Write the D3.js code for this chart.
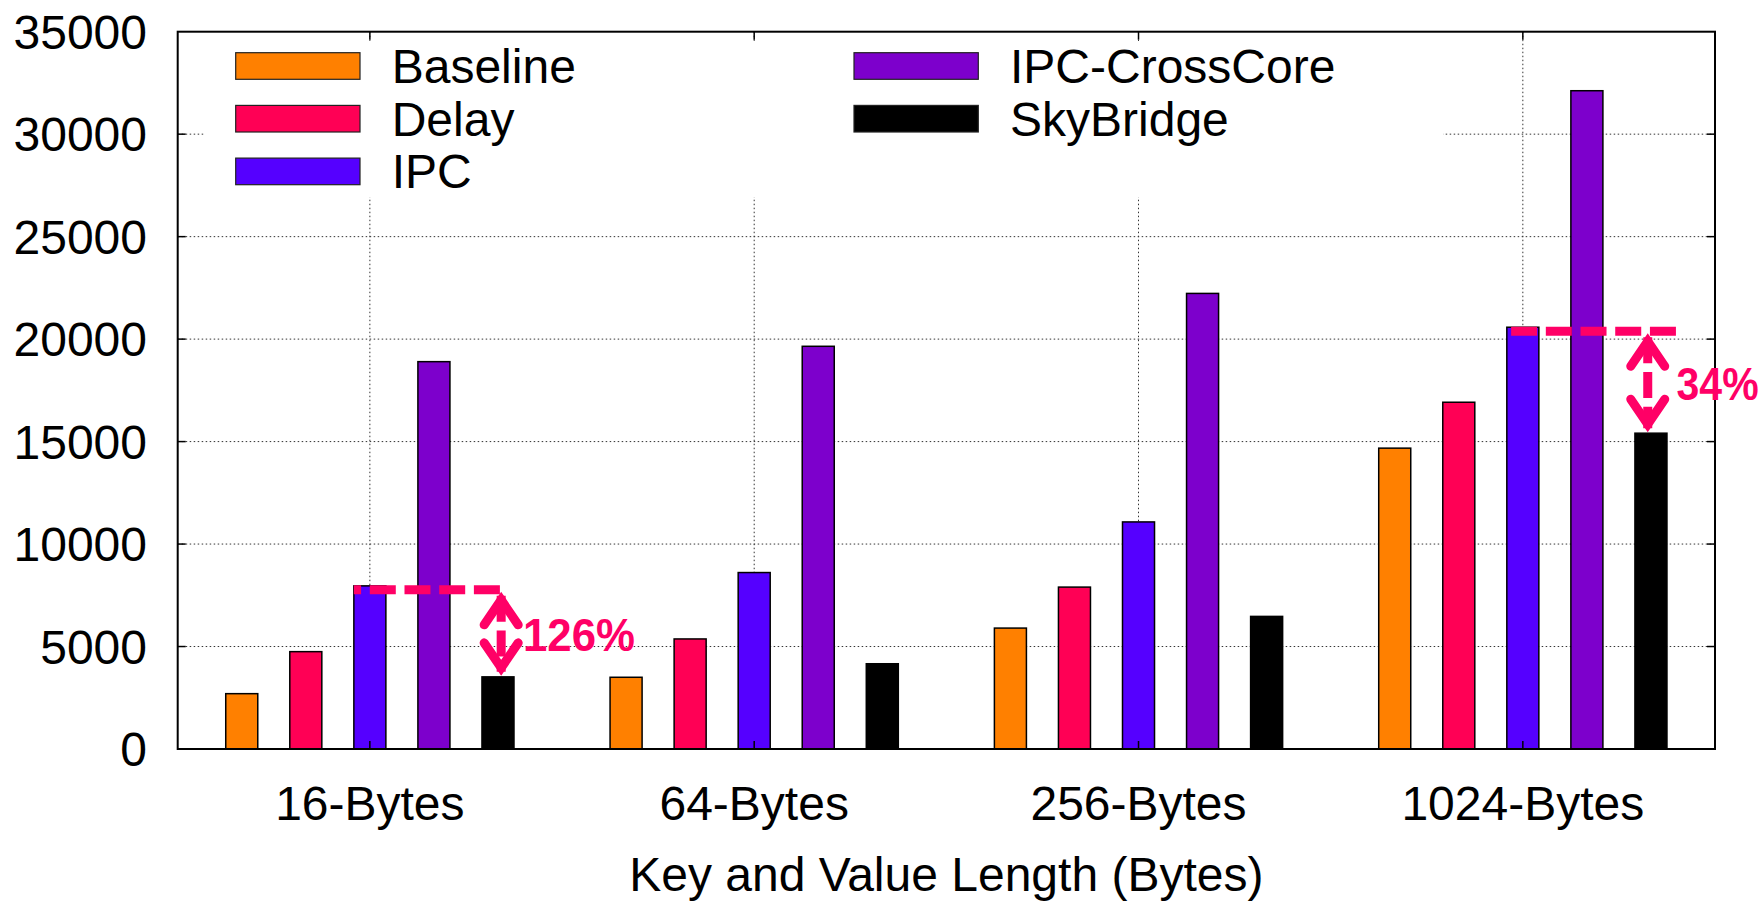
<!DOCTYPE html>
<html>
<head>
<meta charset="utf-8">
<script src="https://cdn.jsdelivr.net/npm/d3@7"></script>
<style>
body { margin: 0; background: #fff; }
text { font-family: "Liberation Sans", Arial, sans-serif; }
</style>
</head>
<body>
<svg id="chart" width="1764" height="909"></svg>
<script>
// data
var categories = ['16-Bytes', '64-Bytes', '256-Bytes', '1024-Bytes']
var seriesNames = ['Baseline', 'Delay', 'IPC', 'IPC-CrossCore', 'SkyBridge']
var seriesColors = ['#ff8000', '#ff0055', '#5500ff', '#7d00cc', '#000000']
var baseline = [2700, 3500, 5900, 14680]
var delay = [4750, 5370, 7900, 16920]
var ipc = [7960, 8610, 11080, 20580]
var ipcCrossCore = [18900, 19650, 22230, 32120]
var skyBridge = [3520, 4160, 6470, 15410]
var yTicks = [0, 5000, 10000, 15000, 20000, 25000, 30000, 35000]
var xTitle = 'Key and Value Length (Bytes)'
var annotGroups = ['16-Bytes', '1024-Bytes']
var annotLabels = ['126%', '34%']

var series = [baseline, delay, ipc, ipcCrossCore, skyBridge]
var pink = '#ff0066'

// plot frame (top is taken by window.top, so prefixed names)
var pLeft = 177.7, pRight = 1715, pTop = 31.7, pBottom = 749

var svg = d3.select('#chart')

var x = d3.scaleBand()
    .domain(categories)
    .range([pLeft, pRight])
    .padding(0)

var y = d3.scaleLinear()
    .domain([0, 35000])
    .range([pBottom, pTop])

var slot = x.bandwidth() / 6
var barW = slot / 2
function center(c) { return x(c) + x.bandwidth() / 2 }

// grid
var grid = svg.append('g')
    .attr('stroke', '#333')
    .attr('stroke-width', 1)
    .attr('stroke-dasharray', '1.5,2.5')
grid.selectAll('line.h')
    .data(yTicks.slice(1, -1))
    .enter()
    .append('line')
    .attr('x1', pLeft).attr('x2', pRight)
    .attr('y1', function(d) { return y(d) })
    .attr('y2', function(d) { return y(d) })
grid.selectAll('line.v')
    .data(categories)
    .enter()
    .append('line')
    .attr('x1', center).attr('x2', center)
    .attr('y1', pTop).attr('y2', pBottom)

// legend box hides the grid behind it
svg.append('rect')
    .attr('x', 205).attr('y', 41)
    .attr('width', 1443 - 205).attr('height', 197 - 41)
    .attr('fill', '#fff')

// bars
series.forEach(function(vals, i) {
    svg.append('g')
        .selectAll('rect')
        .data(vals)
        .enter()
        .append('rect')
        .attr('x', function(d, j) { return center(categories[j]) + (i - 2) * slot - barW / 2 })
        .attr('y', function(d) { return y(d) })
        .attr('width', barW)
        .attr('height', function(d) { return pBottom - y(d) })
        .attr('fill', seriesColors[i])
        .attr('stroke', '#000')
        .attr('stroke-width', 1.5)
})

// frame
svg.append('rect')
    .attr('x', pLeft).attr('y', pTop)
    .attr('width', pRight - pLeft).attr('height', pBottom - pTop)
    .attr('fill', 'none')
    .attr('stroke', '#000')
    .attr('stroke-width', 2)

// ticks
var ticks = svg.append('g').attr('stroke', '#000').attr('stroke-width', 1.5)
yTicks.slice(1, -1).forEach(function(t) {
    ticks.append('line').attr('x1', pLeft).attr('x2', pLeft + 8).attr('y1', y(t)).attr('y2', y(t))
    ticks.append('line').attr('x1', pRight).attr('x2', pRight - 8).attr('y1', y(t)).attr('y2', y(t))
})
categories.forEach(function(c) {
    ticks.append('line').attr('x1', center(c)).attr('x2', center(c)).attr('y1', pBottom).attr('y2', pBottom - 8)
    ticks.append('line').attr('x1', center(c)).attr('x2', center(c)).attr('y1', pTop).attr('y2', pTop + 8)
})

// axis labels
svg.append('g')
    .selectAll('text')
    .data(yTicks)
    .enter()
    .append('text')
    .attr('x', 147)
    .attr('y', function(d) { return y(d) + 17 })
    .attr('text-anchor', 'end')
    .attr('font-size', 48)
    .text(function(d) { return d })

svg.append('g')
    .selectAll('text')
    .data(categories)
    .enter()
    .append('text')
    .attr('x', center)
    .attr('y', 820)
    .attr('text-anchor', 'middle')
    .attr('font-size', 48)
    .text(function(d) { return d })

svg.append('text')
    .attr('x', (pLeft + pRight) / 2)
    .attr('y', 891)
    .attr('text-anchor', 'middle')
    .attr('font-size', 48)
    .text(xTitle)

// legend, two columns
var legendCols = [235.7, 854]
var legend = svg.append('g')
    .selectAll('g')
    .data(seriesNames)
    .enter()
    .append('g')
    .attr('transform', function(d, i) {
        var col = i < 3 ? 0 : 1
        var row = i < 3 ? i : i - 3
        return 'translate(' + legendCols[col] + ',' + (66 + row * 52.7) + ')'
    })
legend.append('rect')
    .attr('x', 0).attr('y', -13.3)
    .attr('width', 124.3).attr('height', 26.6)
    .attr('fill', function(d, i) { return seriesColors[i] })
    .attr('stroke', '#222')
    .attr('stroke-width', 1.2)
legend.append('text')
    .attr('x', 156)
    .attr('y', 17)
    .attr('font-size', 48)
    .text(function(d) { return d })

// annotations: dashed line at IPC height, double arrow down to SkyBridge
var annotLineEnd = [2.03, 2.39]
var annotArrowX = [2.05, 1.95]
var annotTextX = [2.39, 2.40]
var annotTextW = [112, 82]
annotGroups.forEach(function(g, k) {
    var j = categories.indexOf(g)
    var gc = center(g)
    var lineY = y(ipc[j]) + 4
    var x2 = gc + annotLineEnd[k] * slot
    var ax = gc + annotArrowX[k] * slot
    var aTop = lineY + 2
    var aBot = y(skyBridge[j]) - 1
    var a = svg.append('g')
        .attr('stroke', pink)
        .attr('fill', 'none')
        .attr('stroke-width', 9)
    a.append('line')
        .attr('x1', x2).attr('x2', gc - barW / 2)
        .attr('y1', lineY).attr('y2', lineY)
        .attr('stroke-dasharray', '26,8.7')
    a.append('line')
        .attr('x1', ax).attr('x2', ax)
        .attr('y1', aTop + 4).attr('y2', aBot - 4)
        .attr('stroke-dasharray', '26,8.7')
    a.append('path')
        .attr('d', 'M' + (ax - 17) + ',' + (aTop + 33) + 'L' + ax + ',' + (aTop + 8) + 'L' + (ax + 17) + ',' + (aTop + 33))
        .attr('stroke-linecap', 'round')
        .attr('stroke-linejoin', 'miter')
    a.append('path')
        .attr('d', 'M' + (ax - 17) + ',' + (aBot - 33) + 'L' + ax + ',' + (aBot - 8) + 'L' + (ax + 17) + ',' + (aBot - 33))
        .attr('stroke-linecap', 'round')
        .attr('stroke-linejoin', 'miter')
    svg.append('text')
        .attr('x', gc + annotTextX[k] * slot)
        .attr('y', (aTop + aBot) / 2 + 17)
        .attr('font-family', '"DejaVu Sans", sans-serif')
        .attr('font-weight', 'bold')
        .attr('font-size', 47)
        .attr('fill', pink)
        .attr('textLength', annotTextW[k])
        .attr('lengthAdjust', 'spacingAndGlyphs')
        .text(annotLabels[k])
})
</script>
</body>
</html>
